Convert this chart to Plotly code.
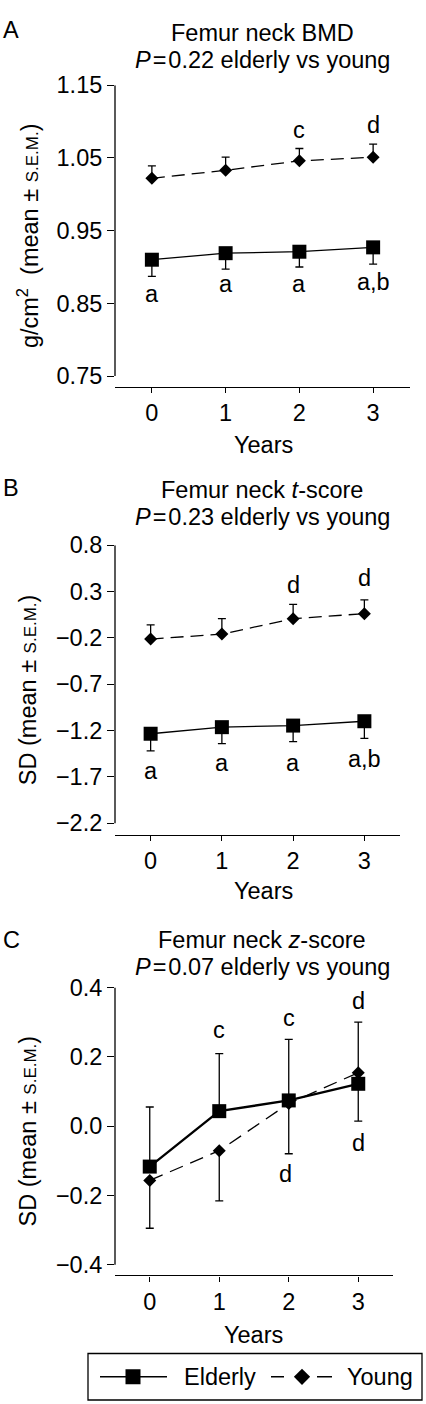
import plotly.graph_objects as go

# ---------------- data ----------------
years = [0, 1, 2, 3]
x_ticktext = ["0", "1", "2", "3"]

# Panel A: femur neck BMD (g/cm2)
elderly_bmd = [0.910, 0.919, 0.921, 0.927]
elderly_bmd_sem = [0.023, 0.022, 0.021, 0.023]
young_bmd = [1.022, 1.033, 1.046, 1.051]
young_bmd_sem = [0.017, 0.018, 0.017, 0.018]
bmd_ticks = [0.75, 0.85, 0.95, 1.05, 1.15]
bmd_ticktext = ["0.75", "0.85", "0.95", "1.05", "1.15"]

# Panel B: femur neck t-score (SD)
elderly_t = [-1.234, -1.163, -1.146, -1.099]
elderly_t_sem = [0.185, 0.178, 0.174, 0.185]
young_t = [-0.212, -0.159, 0.008, 0.062]
young_t_sem = [0.153, 0.167, 0.153, 0.149]
t_ticks = [-2.2, -1.7, -1.2, -0.7, -0.2, 0.3, 0.8]
t_ticktext = ["\u22122.2", "\u22121.7", "\u22121.2", "\u22120.7", "\u22120.2", "0.3", "0.8"]

# Panel C: femur neck z-score (SD)
elderly_z = [-0.117, 0.043, 0.074, 0.122]
elderly_z_sem = [0.172, 0.166, 0.176, 0.178]
young_z = [-0.157, -0.071, 0.065, 0.154]
young_z_sem = [0.138, 0.145, 0.145, 0.140]
z_ticks = [-0.4, -0.2, 0.0, 0.2, 0.4]
z_ticktext = ["\u22120.4", "\u22120.2", "0.0", "0.2", "0.4"]

# significance letters (x, y, text)
letters_A = [(0, 0.863, "a"), (1, 0.877, "a"), (2, 0.877, "a"), (3, 0.879, "a,b"),
             (2, 1.088, "c"), (3, 1.095, "d")]
letters_B = [(0, -1.632, "a"), (1, -1.55, "a"), (2, -1.55, "a"), (3, -1.508, "a,b"),
             (2, 0.374, "d"), (3, 0.445, "d")]
letters_C = [(1, 0.276, "c"), (2, 0.311, "c"), (3, 0.362, "d"),
             (1.95, -0.138, "d"), (3, -0.048, "d")]

titles = [("Femur neck BMD", "<i>P</i>\u200a=\u200a0.22 elderly vs young"),
          ("Femur neck <i>t</i>-score", "<i>P</i>\u200a=\u200a0.23 elderly vs young"),
          ("Femur neck <i>z</i>-score", "<i>P</i>\u200a=\u200a0.07 elderly vs young")]
ytitles = ["g/cm<sup>2</sup>  (mean \u00b1 <span style='font-size:17px'>S.E.M.</span>)",
           "SD (mean \u00b1 <span style='font-size:17px'>S.E.M.</span>)",
           "SD (mean \u00b1 <span style='font-size:17px'>S.E.M.</span>)"]
panel_letters = ["A", "B", "C"]
legend_names = ["Elderly", "Young"]

# ---------------- layout helpers ----------------
W, H = 426, 1404
FONT = "Liberation Sans, Arial, Helvetica, sans-serif"
FS = 23.5
LW = 1.3


def px(v):
    return v / W


def py(v):
    return 1 - v / H


panels = [
    dict(xd=(115, 410), yd=(73, 378), yr=(0.735, 1.15), tv=bmd_ticks, tt=bmd_ticktext,
         t1=20, t2=47.5, lt=17, yrs=437, yrs_x=263, ylo=0.75, yhi=1.15, lw=LW, dash="13px,7px"),
    dict(xd=(115, 400), yd=(538, 831), yr=(-2.328, 0.8), tv=t_ticks, tt=t_ticktext,
         t1=482, t2=509, lt=480, yrs=887, yrs_x=263, ylo=-2.2, yhi=0.8, lw=LW, dash="13px,7px"),
    dict(xd=(115, 393), yd=(985, 1276), yr=(-0.431, 0.4), tv=z_ticks, tt=z_ticktext,
         t1=937, t2=964, lt=937, yrs=1336, yrs_x=254, ylo=-0.4, yhi=0.4, lw=2.3, dash="14px,8px"),
]

series = [
    (elderly_bmd, elderly_bmd_sem, young_bmd, young_bmd_sem, letters_A, "down", "up"),
    (elderly_t, elderly_t_sem, young_t, young_t_sem, letters_B, "down", "up"),
    (elderly_z, elderly_z_sem, young_z, young_z_sem, letters_C, "up", "down"),
]

fig = go.Figure()
annotations = []
shapes = []
layout_axes = {}


def txt(text, x, y, xref="paper", yref="paper", xanchor="center", angle=0):
    return dict(text=text, x=x, y=y, xref=xref, yref=yref, showarrow=False,
                xanchor=xanchor, yanchor="middle", textangle=angle,
                font=dict(family=FONT, size=FS, color="black"))


for i, (p, s) in enumerate(zip(panels, series)):
    n = i + 1
    xa = "x" if n == 1 else f"x{n}"
    ya = "y" if n == 1 else f"y{n}"
    e_vals, e_sem, y_vals, y_sem, letters, e_dir, y_dir = s
    zeros = [0] * len(years)

    def err(sem, d):
        if d == "up":
            return dict(type="data", symmetric=False, array=sem, arrayminus=zeros,
                        color="black", thickness=LW, width=4)
        return dict(type="data", symmetric=False, array=zeros, arrayminus=sem,
                    color="black", thickness=LW, width=4)

    fig.add_trace(go.Scatter(
        x=years, y=e_vals, mode="lines+markers", name=legend_names[0],
        line=dict(color="black", width=p["lw"]),
        marker=dict(symbol="square", size=14, color="black"),
        error_y=err(e_sem, e_dir), xaxis=xa, yaxis=ya, showlegend=False, cliponaxis=False))
    fig.add_trace(go.Scatter(
        x=years, y=y_vals, mode="lines+markers", name=legend_names[1],
        line=dict(color="black", width=LW, dash=p["dash"]),
        marker=dict(symbol="diamond", size=10, color="black"),
        error_y=err(y_sem, y_dir), xaxis=xa, yaxis=ya, showlegend=False, cliponaxis=False))

    xkey = "xaxis" if n == 1 else f"xaxis{n}"
    ykey = "yaxis" if n == 1 else f"yaxis{n}"
    layout_axes[xkey] = dict(
        domain=[px(p["xd"][0]), px(p["xd"][1])], anchor=ya, range=[-0.5, 3.5],
        tickvals=years, ticktext=x_ticktext, ticks="outside", ticklen=5, tickwidth=LW,
        tickcolor="black", showline=True, linecolor="black", linewidth=LW,
        showgrid=False, zeroline=False, tickfont=dict(family=FONT, size=FS, color="black"),
        fixedrange=True)
    layout_axes[ykey] = dict(
        domain=[py(p["yd"][1]), py(p["yd"][0])], anchor=xa, range=list(p["yr"]),
        tickvals=p["tv"], ticktext=p["tt"], ticks="outside", ticklen=7, tickwidth=LW,
        tickcolor="black", showline=False, showgrid=False, zeroline=False,
        tickfont=dict(family=FONT, size=FS, color="black"), fixedrange=True)

    # detached y-axis line
    shapes.append(dict(type="line", xref=f"{xa} domain", yref=ya, x0=0, x1=0,
                       y0=p["ylo"], y1=p["yhi"], line=dict(color="black", width=LW)))

    annotations.append(txt(titles[i][0], px(262), py(p["t1"])))
    annotations.append(txt(titles[i][1], px(262), py(p["t2"])))
    annotations.append(txt(panel_letters[i], px(1), py(p["lt"]), xanchor="left"))
    yc = (p["yd"][0] + p["yd"][1]) / 2
    annotations.append(txt(ytitles[i], px(28), py(yc), angle=-90))
    annotations.append(txt("Years", px(p["yrs_x"]), py(p["yrs"])))
    for (lx, ly, lt) in letters:
        annotations.append(txt(lt, lx, ly, xref=xa, yref=ya))

# ---------------- manual legend ----------------
leg_box = (88, 1355, 422, 1402)
shapes.append(dict(type="rect", xref="paper", yref="paper",
                   x0=px(leg_box[0]), x1=px(leg_box[2]),
                   y0=py(leg_box[3]), y1=py(leg_box[1]),
                   line=dict(color="black", width=LW), fillcolor="rgba(0,0,0,0)"))
layout_axes["xaxis4"] = dict(domain=[px(leg_box[0]), px(leg_box[2])], range=[leg_box[0], leg_box[2]],
                             anchor="y4", visible=False, fixedrange=True)
layout_axes["yaxis4"] = dict(domain=[py(leg_box[3]), py(leg_box[1])], range=[0, 1],
                             anchor="x4", visible=False, fixedrange=True)
fig.add_trace(go.Scatter(x=[100, 167], y=[0.5, 0.5], mode="lines",
                         line=dict(color="black", width=LW), xaxis="x4", yaxis="y4",
                         showlegend=False, hoverinfo="skip"))
fig.add_trace(go.Scatter(x=[133], y=[0.5], mode="markers",
                         marker=dict(symbol="square", size=15, color="black"),
                         xaxis="x4", yaxis="y4", showlegend=False, hoverinfo="skip"))
fig.add_trace(go.Scatter(x=[271, 284, None, 317, 332], y=[0.5, 0.5, None, 0.5, 0.5], mode="lines",
                         line=dict(color="black", width=LW), xaxis="x4", yaxis="y4",
                         showlegend=False, hoverinfo="skip", connectgaps=False))
fig.add_trace(go.Scatter(x=[302], y=[0.5], mode="markers",
                         marker=dict(symbol="diamond", size=12.5, color="black"),
                         xaxis="x4", yaxis="y4", showlegend=False, hoverinfo="skip"))
annotations.append(txt(legend_names[0], px(182), py(1379), xanchor="left"))
annotations.append(txt(legend_names[1], px(345), py(1379), xanchor="left"))

fig.update_layout(
    width=W, height=H, margin=dict(l=0, r=0, t=0, b=0),
    paper_bgcolor="white", plot_bgcolor="white",
    showlegend=False, annotations=annotations, shapes=shapes,
    font=dict(family=FONT, size=FS, color="black"),
    **layout_axes)

# remove the browser's default 8px body margin so the figure sits at the page origin
fig.write_html("out.html", config={"displayModeBar": False},
               post_script="document.body.style.margin='0';document.body.style.overflow='hidden';")
